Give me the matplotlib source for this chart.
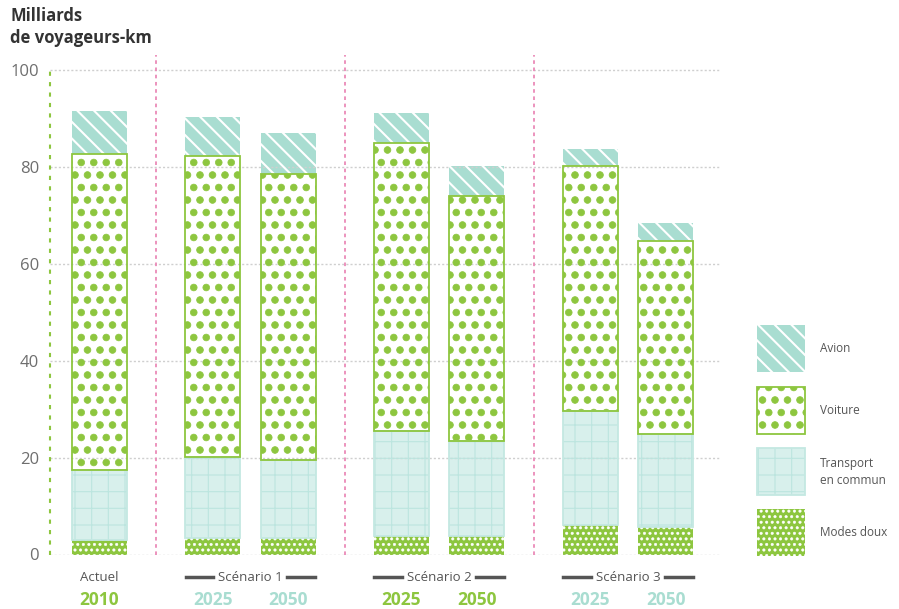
import matplotlib
matplotlib.use("Agg")
import matplotlib.pyplot as plt
import matplotlib.hatch as mhatch
from matplotlib.transforms import blended_transform_factory


# "O" hatch: bigger filled dots, a little denser than the default
class BigDots(mhatch.Circles):
    size = 0.27
    filled = True

    def __init__(self, hatch, density):
        # row count has to stay even for the hatch vertex bookkeeping
        self.num_rows = int(hatch.count("O") * density * 4 / 3)
        super().__init__(hatch, density)


mhatch._hatch_types = [BigDots if t is mhatch.LargeCircles else t for t in mhatch._hatch_types]
mhatch.SmallFilledCircles.size = 0.22

plt.rcParams["font.family"] = ["Open Sans", "DejaVu Sans"]

years = ["2010", "2025", "2050", "2025", "2050", "2025", "2050"]
groups = ["Actuel", "Scénario 1", "Scénario 2", "Scénario 3"]
group_of_bar = [0, 1, 1, 2, 2, 3, 3]
modes_doux = [2.9, 3.5, 3.5, 3.9, 3.9, 6.0, 5.6]
transport = [14.6, 16.6, 16.0, 21.6, 19.5, 23.6, 19.2]
voiture = [65.0, 62.1, 59.0, 59.4, 50.5, 50.5, 39.8]
avion = [8.9, 8.1, 8.5, 6.2, 6.2, 3.6, 3.7]
legend_labels = ["Avion", "Voiture", "Transport\nen commun", "Modes doux"]

GREEN = "#8dc63f"
TEAL = "#a9ddd1"
TC_FACE = "#d8f0ec"
TC_LINE = "#bce5df"
PINK = "#ea8ab8"
GREY = "#6e6e6e"

fig = plt.figure(figsize=(8.99, 6.09), dpi=100)
ax = fig.add_axes([50 / 899, 1 - 554.5 / 609, 670 / 899, 499.5 / 609])

x = [i + 0.5 * g for i, g in enumerate(group_of_bar)]
width = 0.73


def layer(axis, xs, w, vals, bottom, face, hatch, hatch_color, hatch_lw, edge=None):
    axis.bar(xs, vals, w, bottom=bottom, color=face, linewidth=0, zorder=2)
    bars = axis.bar(xs, vals, w, bottom=bottom, facecolor="none",
                    edgecolor=hatch_color, hatch=hatch, linewidth=0, zorder=3)
    for b in bars:
        if hasattr(b, "set_hatch_linewidth"):
            b.set_hatch_linewidth(hatch_lw)
    if edge is not None:
        axis.bar(xs, vals, w, bottom=bottom, facecolor="none",
                 edgecolor=edge, linewidth=1.3, zorder=4)


styles = [
    # face, hatch, hatch colour, hatch lw, edge
    (GREEN, "...", "white", 0.4, None),
    (TC_FACE, "+", TC_LINE, 0.8, "#c4e8e2"),
    ("white", "O", GREEN, 0.5, GREEN),
    (TEAL, "\\\\", "white", 1.5, None),
]

bottom = [0.0] * len(x)
for vals, st in zip([modes_doux, transport, voiture, avion], styles):
    layer(ax, x, width, vals, bottom, *st)
    bottom = [b + v for b, v in zip(bottom, vals)]

ax.set_xlim(-0.656, 8.22)
ax.set_ylim(0, 103)
for s in ax.spines.values():
    s.set_visible(False)
ax.set_yticks([0, 20, 40, 60, 80, 100])
ax.tick_params(axis="y", length=0, labelsize=12, labelcolor=GREY, pad=8)
ax.set_xticks([])
ax.grid(axis="y", color="#cfcfcf", linestyle=(0, (1.5, 1.5)), linewidth=1, zorder=5)
ax.set_axisbelow(False)

# axis line and scenario separators
ax.vlines(ax.get_xlim()[0], 0, 100, color=GREEN, linestyle=(0, (2, 3)), linewidth=1.5, zorder=6, clip_on=False)
for g in range(1, len(groups)):
    first = group_of_bar.index(g)
    ax.axvline((x[first - 1] + x[first]) / 2, color=PINK, linestyle=(0, (2, 2)), linewidth=1.3, zorder=6)

trans = blended_transform_factory(ax.transData, ax.transAxes)
year_colors = [GREEN, TEAL, GREEN, TEAL]
for g, name in enumerate(groups):
    xs = [xx for xx, gg in zip(x, group_of_bar) if gg == g]
    center = sum(xs) / len(xs)
    ax.text(center, -0.046, name, transform=trans, ha="center", va="center",
            fontsize=9.5, color="#555555")
    if len(xs) > 1:
        for sgn in (-1, 1):
            ax.plot([center + sgn * 0.49, center + sgn * 0.86], [-0.046, -0.046],
                    transform=trans, color="#555555", linewidth=2.5, clip_on=False)
    for xx, gg, yr in zip(x, group_of_bar, years):
        if gg == g:
            ax.text(xx, -0.091, yr, transform=trans, ha="center", va="center",
                    fontsize=12.5, fontweight="bold", color=year_colors[g])

fig.text(10 / 899, 1 - 7 / 609, "Milliards\nde voyageurs-km", ha="left", va="top",
         fontsize=12, fontweight="bold", color="#333333", linespacing=1.3)

# legend
lax = fig.add_axes([740 / 899, 1 - 570 / 609, 159 / 899, 260 / 609])
lax.set_xlim(740, 899)
lax.set_ylim(570, 310)
lax.axis("off")
tops = [325, 387, 448, 509]
for lab, top, st in zip(legend_labels, tops, styles[::-1]):
    layer(lax, [781], 48, [47], [top], *st)
    lax.text(820, top + 23.5, lab, ha="left", va="center", fontsize=8.5,
             color="#555555", linespacing=1.4)

fig.savefig("out.png", dpi=100)
